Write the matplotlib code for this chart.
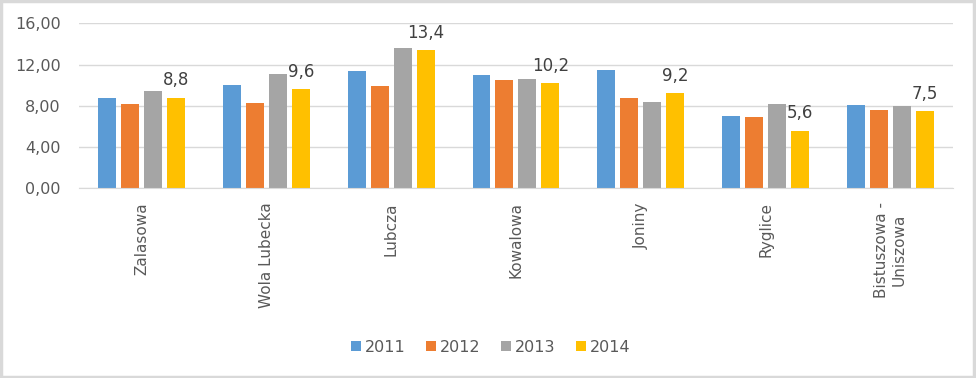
"""
Rocznik 2011-2014 - slupki dla siedmiu miejscowosci, etykiety tylko dla 2014.

Produces:
    out.png
"""

import numpy as np
import matplotlib
matplotlib.use("Agg")
import matplotlib.pyplot as plt
from matplotlib.patches import Rectangle

_TEXT  = "#595959"
_LABEL = "#404040"
_GRID  = "#D9D9D9"
_COLORS = ["#5B9BD5", "#ED7D31", "#A5A5A5", "#FFC000"]

categories = ["Zalasowa", "Wola Lubecka", "Lubcza", "Kowalowa", "Joniny",
              "Ryglice", "Bistuszowa -\nUniszowa"]
years = ["2011", "2012", "2013", "2014"]

v2011 = [8.8, 10.0, 11.4, 11.0, 11.5, 7.0, 8.1]
v2012 = [8.2, 8.3, 9.9, 10.5, 8.8, 6.9, 7.6]
v2013 = [9.4, 11.1, 13.6, 10.6, 8.4, 8.2, 8.0]
v2014 = [8.8, 9.6, 13.4, 10.2, 9.2, 5.6, 7.5]

yticks = [0, 4, 8, 12, 16]


def plot_chart(out="out.png"):
    series = [v2011, v2012, v2013, v2014]
    x = np.arange(len(categories))
    pitch = 0.184
    width = 0.144

    fig = plt.figure(figsize=(9.76, 3.78), dpi=100, facecolor="white")
    ax = fig.add_axes([0.0809, 0.5019, 0.8955, 0.4365])

    for i, (vals, year) in enumerate(zip(series, years)):
        off = (i - 1.5) * pitch
        bars = ax.bar(x + off, vals, width, color=_COLORS[i], label=year,
                      zorder=3)
        if year == "2014":
            for b, v in zip(bars, vals):
                ax.annotate(f"{v:.1f}".replace(".", ","),
                            (b.get_x() + b.get_width() / 2, v),
                            xytext=(0, 6), textcoords="offset points",
                            ha="center", va="bottom", fontsize=12,
                            color=_LABEL)

    ax.set_xlim(-0.5, len(categories) - 0.5)
    ax.set_ylim(0, 16)
    ax.set_yticks(yticks)
    ax.set_yticklabels([f"{t:.2f}".replace(".", ",") for t in yticks])
    ax.yaxis.grid(True, color=_GRID, lw=1, zorder=0)
    ax.set_xticks(x)
    ax.set_xticklabels(categories, rotation=90, va="top", ha="center",
                       multialignment="center")

    ax.tick_params(axis="y", length=0, pad=13, labelsize=11.5, colors=_TEXT)
    ax.tick_params(axis="x", length=0, pad=10, labelsize=11, colors=_TEXT)
    for name, sp in ax.spines.items():
        sp.set_visible(name == "bottom")
    ax.spines["bottom"].set_color(_GRID)
    ax.spines["bottom"].set_zorder(4)

    leg = fig.legend(loc="center", bbox_to_anchor=(0.503, 0.082), ncol=4,
                     frameon=False, handlelength=0.6, handleheight=0.6,
                     handletextpad=0.25, columnspacing=1.3,
                     prop={"family": "DejaVu Sans", "size": 11.5})
    for t in leg.get_texts():
        t.set_color(_TEXT)

    # chart frame
    fig.patches.append(Rectangle((0.001, 0.003), 0.997, 0.994,
                                 transform=fig.transFigure, fill=False,
                                 edgecolor=_GRID, lw=2.5))

    fig.savefig(out, dpi=100, facecolor="white")
    return fig


if __name__ == "__main__":
    plot_chart()
